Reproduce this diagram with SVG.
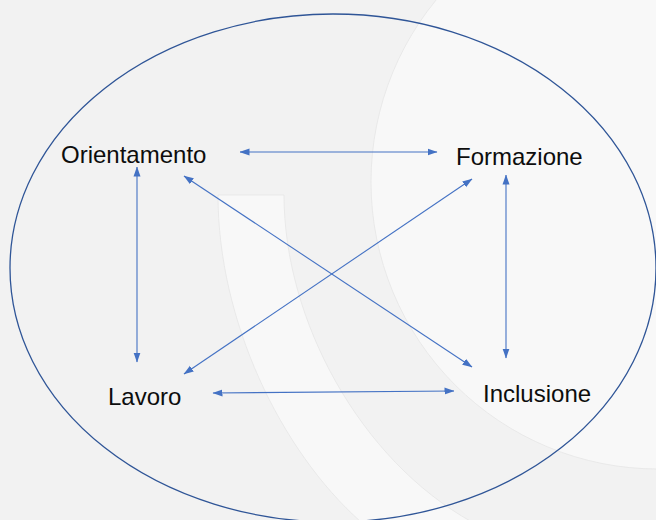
<svg xmlns="http://www.w3.org/2000/svg" width="656" height="520" viewBox="0 0 656 520">
<style>
.bg{fill:#f2f2f2}
.lite{fill:#f8f8f8;stroke:#e6e6e6;stroke-width:0.8}
.lbl{font-family:"Liberation Sans",Arial,sans-serif;font-size:24px;fill:#0d0d0d}
.conn line{stroke:#4472c4;stroke-width:1.1;fill:none;marker-start:url(#ah);marker-end:url(#ah)}
</style>
<defs>
<marker id="ah" markerUnits="userSpaceOnUse" markerWidth="10" markerHeight="8" refX="9.5" refY="3.5" orient="auto-start-reverse" viewBox="0 0 10 7">
<path d="M0,0 L10,3.5 L0,7 z" fill="#4472c4"/>
</marker>
</defs>
<rect class="bg" x="0" y="0" width="656" height="520"/>
<circle class="lite" cx="658" cy="182" r="287"/>
<path class="lite" d="M218,195 L284,195 C284,320 360,460 472,522 L361,522 C280,450 218,320 218,195 Z"/>
<ellipse cx="333" cy="268" rx="323" ry="254" fill="none" stroke="#2f5597" stroke-width="1.3"/>
<g class="conn" id="connectors">
<line x1="240" y1="152" x2="437" y2="152"/>
<line x1="137" y1="167" x2="137" y2="362"/>
<line x1="506" y1="175" x2="506" y2="358"/>
<line x1="213" y1="393" x2="454" y2="391"/>
<line x1="184" y1="176" x2="472" y2="367"/>
<line x1="472" y1="179" x2="184" y2="374"/>
</g>
<g id="node-orientamento"><text class="lbl" x="61" y="163">Orientamento</text></g>
<g id="node-formazione"><text class="lbl" x="456" y="165">Formazione</text></g>
<g id="node-lavoro"><text class="lbl" x="108" y="405">Lavoro</text></g>
<g id="node-inclusione"><text class="lbl" x="483" y="402">Inclusione</text></g>
</svg>
